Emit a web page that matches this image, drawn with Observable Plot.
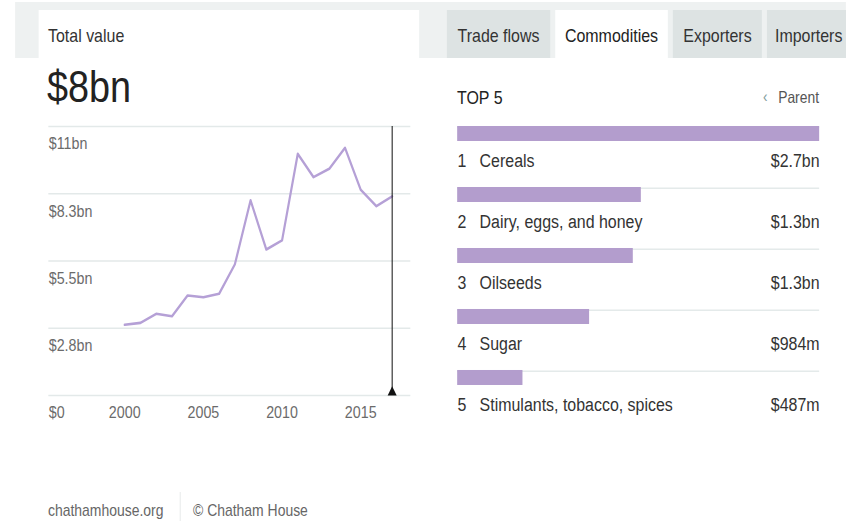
<!DOCTYPE html>
<html>
<head>
<meta charset="utf-8">
<script src="https://cdn.jsdelivr.net/npm/d3@7"></script>
<script src="https://cdn.jsdelivr.net/npm/@observablehq/plot@0.6"></script>
<style>
html, body { margin: 0; padding: 0; background: #fff; overflow: hidden; }
#page { position: relative; height: 521px; transform-origin: 0 0; font-family: "Liberation Sans", Arial, sans-serif; color: #333; }
#page div { position: absolute; white-space: nowrap; }
svg { overflow: visible; }
</style>
</head>
<body>
<div id="page"></div>
<script>
// ---------- data ----------
const years = [2000, 2001, 2002, 2003, 2004, 2005, 2006, 2007, 2008, 2009, 2010, 2011, 2012, 2013, 2014, 2015, 2016, 2017];
const totalValues = [2.89, 2.97, 3.34, 3.24, 4.09, 4.02, 4.16, 5.36, 7.98, 5.97, 6.34, 9.88, 8.93, 9.27, 10.13, 8.41, 7.74, 8.14]; // $bn
const yTicks = [0, 2.75, 5.5, 8.25, 11];
const yTickLabels = ["$0", "$2.8bn", "$5.5bn", "$8.3bn", "$11bn"];
const xTicks = [2000, 2005, 2010, 2015];
const selectedYear = 2017;
const totalLabel = "$8bn";

const ranks = [1, 2, 3, 4, 5];
const commodities = ["Cereals", "Dairy, eggs, and honey", "Oilseeds", "Sugar", "Stimulants, tobacco, spices"];
const commodityValues = [2.70, 1.37, 1.31, 0.984, 0.487]; // $bn
const commodityLabels = ["$2.7bn", "$1.3bn", "$1.3bn", "$984m", "$487m"];

const tabs = ["Trade flows", "Commodities", "Exporters", "Importers"];
const activeTab = "Commodities";

// ---------- layout helpers (page is horizontally condensed like the reference) ----------
const K = 0.84;
const page = document.getElementById("page");
page.style.width = (846 / K) + "px";
page.style.transform = `scaleX(${K})`;

function box(x, y, w, h, style) {
  const d = document.createElement("div");
  d.style.left = (x / K) + "px";
  d.style.top = y + "px";
  if (w != null) d.style.width = (w / K) + "px";
  if (h != null) d.style.height = h + "px";
  Object.assign(d.style, style || {});
  page.appendChild(d);
  return d;
}
function text(x, baseline, fs, str, style, anchor) {
  const d = document.createElement("div");
  d.textContent = str;
  d.style.fontSize = fs + "px";
  d.style.lineHeight = fs + "px";
  d.style.top = (baseline - 0.8465 * fs) + "px";
  d.style.left = (x / K) + "px";
  if (anchor === "end") d.style.transform = "translateX(-100%)";
  if (anchor === "middle") d.style.transform = "translateX(-50%)";
  Object.assign(d.style, style || {});
  page.appendChild(d);
  return d;
}

// background band and cards
box(15, 2, 831, 56, {background: "#eef1f1"});
box(39, 10, 380, 520, {background: "#ffffff"});
box(420, 58, 426, 470, {background: "#ffffff"});

// tabs
const tabGeom = [[447, 103], [555, 113], [673, 89], [767, 90]];
tabs.forEach((t, i) => {
  const [x, w] = tabGeom[i];
  const active = t === activeTab;
  box(x, 10, w, 48, {background: active ? "#ffffff" : "#dde3e3"});
  if (i < 3) text(x + w / 2, 42, 19, t, {color: active ? "#222" : "#333"}, "middle");
  else text(x + 8, 42, 19, t, {color: "#333"});
});

// left header
text(48, 42, 19, "Total value", {color: "#333"});
text(47, 102, 45, totalLabel, {color: "#222"});

// right header
text(457, 104, 19, "TOP 5", {color: "#222"});
text(763, 103, 16, "‹", {color: "#7f9c9c"});
text(819, 103, 16.5, "Parent", {color: "#555"}, "end");

// footer
text(48, 517, 16.6, "chathamhouse.org", {color: "#666"});
box(180, 492, 1, 29, {background: "#e3e6e6"});
text(193, 517, 16.6, "© Chatham House", {color: "#666"});

// ---------- line chart ----------
const lineData = years.map((y, i) => ({year: y, value: totalValues[i]}));
const lw = 380 / K;
const line = Plot.plot({
  width: lw,
  height: 320,
  marginLeft: 8 / K,
  marginRight: 10 / K,
  marginTop: 16,
  marginBottom: 35,
  style: {fontFamily: "'Liberation Sans', Arial, sans-serif", background: "transparent", overflow: "visible"},
  x: {domain: [1995.17, 2018.18]},
  y: {domain: [0, 11]},
  marks: [
    Plot.ruleY(yTicks, {stroke: "#e3e9e9", strokeWidth: 1.5}),
    Plot.axisY(yTicks, {anchor: "left", tickSize: 0, tickPadding: 0, textAnchor: "start", lineAnchor: "bottom", dy: 23,
      tickFormat: d => yTickLabels[yTicks.indexOf(d)], fontSize: 17, fill: "#6b6b6b", label: null}),
    Plot.axisX(xTicks, {anchor: "bottom", tickSize: 0, tickPadding: 0, lineAnchor: "bottom", dy: 23,
      tickFormat: d => String(d), fontSize: 17, fill: "#6b6b6b", label: null}),
    Plot.line(lineData, {x: "year", y: "value", stroke: "#b5a0d6", strokeWidth: 2.6}),
    Plot.ruleX([selectedYear], {stroke: "#111", strokeWidth: 1.2}),
    Plot.dot([selectedYear], {x: d => d, y: () => 0, symbol: "triangle", r: 4, fill: "#111", stroke: "none", dy: -3})
  ]
});
const lwrap = box(40, 110, 380, 320);
lwrap.appendChild(line);

// ---------- bar chart ----------
const rows = commodities.map((c, i) => ({rank: ranks[i], name: c, value: commodityValues[i], label: commodityLabels[i]}));
const bw = 406 / K;
const bars = Plot.plot({
  width: bw,
  height: 300,
  marginLeft: 17 / K,
  marginRight: 27 / K,
  marginTop: 16,
  marginBottom: 24,
  style: {fontFamily: "'Liberation Sans', Arial, sans-serif", background: "transparent", overflow: "visible"},
  x: {domain: [0, d3.max(commodityValues)], axis: null},
  y: {domain: commodities, axis: null, paddingInner: 0.755, paddingOuter: 0, align: 0},
  marks: [
    Plot.ruleY(rows, {y: "name", x1: 0, x2: d3.max(commodityValues), stroke: "#e4eaea", strokeWidth: 1.5, dy: -6.75}),
    Plot.barX(rows, {y: "name", x: "value", fill: "#b39dcd"}),
    Plot.text(rows, {y: "name", frameAnchor: "left", text: d => String(d.rank), textAnchor: "start", lineAnchor: "bottom", dy: 33, fontSize: 19, fill: "#333"}),
    Plot.text(rows, {y: "name", frameAnchor: "left", text: "name", textAnchor: "start", lineAnchor: "bottom", dy: 33, dx: 22 / K, fontSize: 19, fill: "#333"}),
    Plot.text(rows, {y: "name", frameAnchor: "right", text: "label", textAnchor: "end", lineAnchor: "bottom", dy: 33, fontSize: 19, fill: "#333"})
  ]
});
const bwrap = box(440, 110, 406, 300);
bwrap.appendChild(bars);
</script>
</body>
</html>
